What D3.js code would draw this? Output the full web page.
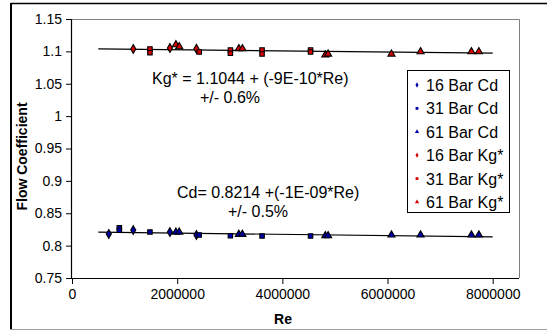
<!DOCTYPE html>
<html><head><meta charset="utf-8">
<script src="https://cdn.jsdelivr.net/npm/d3@7"></script>
<style>body{margin:0;background:#fff}svg{display:block;font-family:"Liberation Sans",Arial,sans-serif}</style>
</head><body><svg id="c" width="547" height="331"></svg>
<script>
// ---- data ----
const yTicks = [0.75, 0.8, 0.85, 0.9, 0.95, 1, 1.05, 1.1, 1.15];
const yTickLabels = ["0.75", "0.8", "0.85", "0.9", "0.95", "1", "1.05", "1.1", "1.15"];
const xTicks = [0, 2000000, 4000000, 6000000, 8000000];
const xTickLabels = ["0", "2000000", "4000000", "6000000", "8000000"];

const re16Cd = [700000, 1165000, 1862000, 2366000];
const val16Cd = [0.818, 0.824, 0.821, 0.8164];
const re31Cd = [900000, 900000, 1482000, 2419000, 3012000, 3614000, 4536000];
const val31Cd = [0.8277, 0.8237, 0.821, 0.8164, 0.8153, 0.8149, 0.8149];
const re61Cd = [1976000, 2039000, 3173000, 3240000, 4817000, 4870000, 6075000, 6628000, 7595000, 7737000];
const val61Cd = [0.821, 0.821, 0.8175, 0.8175, 0.8153, 0.8153, 0.8164, 0.8164, 0.8164, 0.8164];

const re16Kg = [1165000, 1862000, 2366000];
const val16Kg = [1.1037, 1.1052, 1.1041];
const re31Kg = [1482000, 1482000, 2419000, 3012000, 3012000, 3614000, 3614000, 4536000, 4536000];
const val31Kg = [1.1037, 1.098, 1.099, 1.1021, 1.097, 1.1021, 1.0959, 1.1021, 1.099];
const re61Kg = [1976000, 2039000, 3173000, 3240000, 4817000, 4870000, 6075000, 6628000, 7595000, 7737000];
const val61Kg = [1.1103, 1.1072, 1.1041, 1.1041, 1.0944, 1.0959, 1.0959, 1.0995, 1.0995, 1.0995];

const trendRe = [500000, 8000000];
const kgIntercept = 1.1044, kgSlope = -9e-10;
const cdIntercept = 0.8214, cdSlope = -1e-9;

const seriesNames = ["16 Bar Cd", "31 Bar Cd", "61 Bar Cd", "16 Bar Kg*", "31 Bar Kg*", "61 Bar Kg*"];
const eqKg = ["Kg* = 1.1044 + (-9E-10*Re)", "+/- 0.6%"];
const eqCd = ["Cd= 0.8214 +(-1E-09*Re)", "+/- 0.5%"];

// ---- layout ----
const svg = d3.select("#c");
const L = 72, R = 519, T = 19, B = 278;
const x = d3.scaleLinear().domain([0, 8500000]).range([L, R]);
const y = d3.scaleLinear().domain([0.75, 1.15]).range([B, T]);

const blue = "#0000b0", red = "#d80000";
const series = [
  {re: re16Cd, v: val16Cd, shape: d3.symbolDiamond, fill: blue},
  {re: re31Cd, v: val31Cd, shape: d3.symbolSquare, fill: blue},
  {re: re61Cd, v: val61Cd, shape: d3.symbolTriangle, fill: blue},
  {re: re16Kg, v: val16Kg, shape: d3.symbolDiamond, fill: red},
  {re: re31Kg, v: val31Kg, shape: d3.symbolSquare, fill: red},
  {re: re61Kg, v: val61Kg, shape: d3.symbolTriangle, fill: red}
];

// outer border
svg.append("line").attr("x1", 11).attr("x2", 547).attr("y1", 3.5).attr("y2", 3.5).attr("stroke", "#000").attr("stroke-width", 1.5);
svg.append("line").attr("x1", 11).attr("x2", 11).attr("y1", 3).attr("y2", 330).attr("stroke", "#000").attr("stroke-width", 2);
svg.append("line").attr("x1", 10).attr("x2", 547).attr("y1", 329.5).attr("y2", 329.5).attr("stroke", "#a0a0a0").attr("stroke-width", 1);

// plot area border (top/right)
svg.append("path").attr("d", `M${L},${T + 0.5}H${R + 0.5}V${B}`).attr("fill", "none").attr("stroke", "#808080").attr("stroke-width", 1);

// axes
const yAxis = d3.axisLeft(y).tickValues(yTicks).tickFormat((d, i) => yTickLabels[i]).tickSize(6).tickPadding(4);
const gy = svg.append("g").attr("transform", `translate(${L},0)`).call(yAxis);
const xAxis = d3.axisBottom(x).tickValues(xTicks).tickFormat((d, i) => xTickLabels[i]).tickSize(6).tickPadding(5);
const gx = svg.append("g").attr("transform", `translate(0,${B})`).call(xAxis);
[gx, gy].forEach(g => {
  g.select(".domain").attr("stroke", "#000").attr("stroke-width", 1.2);
  g.selectAll(".tick line").attr("stroke", "#000");
  g.selectAll("text").attr("font-size", 14).attr("fill", "#000").attr("font-family", "Liberation Sans, Arial, sans-serif");
});
gx.select(".domain").attr("d", `M${L},0.5H${R}`);
gy.select(".domain").attr("d", `M-0.5,${B}V${T}`);

// axis titles
svg.append("text").attr("transform", `translate(27,${(T + B) / 2 + 8}) rotate(-90)`).attr("text-anchor", "middle")
  .attr("font-size", 14).attr("font-weight", "bold").text("Flow Coefficient");
svg.append("text").attr("x", 283).attr("y", 324).attr("text-anchor", "middle")
  .attr("font-size", 14).attr("font-weight", "bold").text("Re");

// trend lines
const line = d3.line().x(d => x(d[0])).y(d => y(d[1]));
[[kgIntercept, kgSlope], [cdIntercept, cdSlope]].forEach(([a, b]) => {
  svg.append("path").attr("d", line(trendRe.map(r => [r, a + b * r]))).attr("fill", "none").attr("stroke", "#000").attr("stroke-width", 1.2);
});

// markers
series.forEach(s => {
  const sym = d3.symbol().type(s.shape).size(s.shape === d3.symbolSquare ? 20 : 22);
  svg.append("g").selectAll("path").data(s.re.map((r, i) => [r, s.v[i]])).join("path")
    .attr("transform", d => `translate(${x(d[0])},${y(d[1])})`)
    .attr("d", sym).attr("fill", s.fill).attr("stroke", "#000").attr("stroke-width", 1.1);
});

// equations
svg.append("text").attr("x", 152).attr("y", 84).attr("font-size", 16).text(eqKg[0]);
svg.append("text").attr("x", 200).attr("y", 103).attr("font-size", 16).text(eqKg[1]);
svg.append("text").attr("x", 177).attr("y", 198).attr("font-size", 16).text(eqCd[0]);
svg.append("text").attr("x", 228).attr("y", 217).attr("font-size", 16).text(eqCd[1]);

// legend
const lg = svg.append("g");
lg.append("rect").attr("x", 407.5).attr("y", 70.5).attr("width", 102).attr("height", 142).attr("fill", "#fff").attr("stroke", "#000").attr("stroke-width", 1);
seriesNames.forEach((n, i) => {
  const cy = 85 + i * 23.4;
  lg.append("path").attr("transform", `translate(417,${cy})`)
    .attr("d", d3.symbol().type(series[i].shape).size(8)).attr("fill", series[i].fill);
  lg.append("text").attr("x", 426).attr("y", cy + 6).attr("font-size", 16).text(n);
});
</script></body></html>
